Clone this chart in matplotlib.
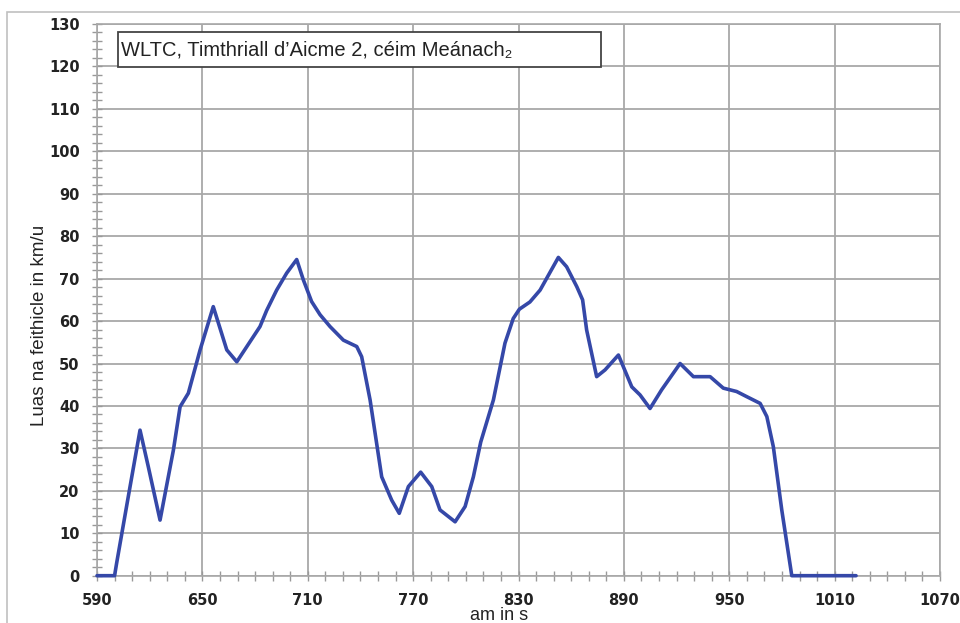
import numpy as np
import matplotlib.pyplot as plt
from matplotlib.patches import Rectangle
from matplotlib.ticker import MultipleLocator

# dane (czas w s, predkosc w km/h)
czas = [590, 600, 601.2, 607.8, 614.5, 619.2, 625.9, 633.5, 637.3, 642, 648.7,
        656.2, 663.9, 669.6, 682.8, 686.6, 692.3, 698, 703.7, 707.5, 712.2, 717,
        722.7, 730.3, 737.9, 740.7, 745.5, 752.1, 757.8, 762.1, 767.3, 774.3,
        780.6, 785.3, 793.9, 799.6, 804.3, 808.5, 815.7, 822.3, 827, 830.5,
        836.5, 842.3, 852.7, 857.4, 863.2, 866.5, 868.8, 874.5, 879.3, 886.9,
        894.5, 899.2, 904.9, 911.5, 922, 929.6, 939.1, 946.6, 954.2, 959.9,
        967.6, 971.4, 975.1, 979.9, 985.6, 1022.2]
predkosc = [0, 0, 3, 18.6, 34.3, 25.7, 13.1, 29.6, 39.8, 43, 53.2,
            63.4, 53.2, 50.4, 58.7, 62.5, 67.3, 71.3, 74.5, 69.7, 64.6, 61.5,
            58.7, 55.5, 54, 51.6, 41.4, 23.3, 17.8, 14.7, 21, 24.4,
            21, 15.5, 12.7, 16.3, 23.3, 31.5, 41.4, 54.8, 60.6, 62.8,
            64.5, 67.3, 75, 72.8, 68.1, 65, 57.9, 46.9, 48.5, 52,
            44.5, 42.6, 39.4, 43.8, 50, 46.9, 46.9, 44.2, 43.4, 42.2,
            40.6, 37.5, 30.4, 15.5, 0, 0]

tytul = "WLTC, Timthriall d\u2019Aicme 2, céim Meánach\u2082"
os_x = "am in s"
os_y = "Luas na feithicle in km/u"

plt.rcParams['font.family'] = ['Liberation Sans', 'DejaVu Sans']

fig = plt.figure(figsize=(9.6, 6.23), dpi=100)
ax = fig.add_axes([97/960, 1-575.7/623, (940-97)/960, (575.7-24)/623])

ax.plot(czas, predkosc, color='#3548a8', linewidth=2.6,
        solid_joinstyle='round', solid_capstyle='round', clip_on=False, zorder=3)

ax.set_xlim(590, 1070)
ax.set_ylim(0, 130)
ax.xaxis.set_major_locator(MultipleLocator(60, offset=50))
ax.xaxis.set_minor_locator(MultipleLocator(10))
ax.yaxis.set_major_locator(MultipleLocator(10))
ax.yaxis.set_minor_locator(MultipleLocator(2))
ax.grid(True, which='major', color='#a8a8a8', linewidth=1.3)
ax.set_axisbelow(True)

ax.tick_params(which='both', direction='inout', length=7, color='#999999', width=1)
ax.tick_params(axis='y', which='both', pad=9)
ax.tick_params(axis='x', which='both', pad=9)
for lab in ax.get_xticklabels() + ax.get_yticklabels():
    lab.set_fontweight('bold')
    lab.set_fontsize(10.5)
    lab.set_color('#222222')
    lab.set_family('DejaVu Sans')

for s in ax.spines.values():
    s.set_color('#a8a8a8')
    s.set_linewidth(1.2)

fig.text(499/960, 1-615/623, os_x, ha='center', va='center', fontsize=13, color='#222222')
fig.text(40/960, 1-325/623, os_y, ha='center', va='center', rotation=90, fontsize=13.5, color='#222222')

# ramka z tytulem
fig.patches.append(Rectangle((118/960, 1-67/623), (601-118)/960, 35/623,
                             transform=fig.transFigure, facecolor='white',
                             edgecolor='#444444', linewidth=1.3, zorder=5))
fig.text(121/960, 1-49.5/623, tytul, ha='left', va='center', fontsize=14.5,
         color='#222222', zorder=6)

# zewnetrzna ramka wykresu
fig.patches.append(Rectangle((7/960, -0.1), 1.1, (623-12)/623+0.1,
                             transform=fig.transFigure, facecolor='none',
                             edgecolor='#c0c0c0', linewidth=1.2, zorder=0))

plt.savefig("out.png", dpi=100)
